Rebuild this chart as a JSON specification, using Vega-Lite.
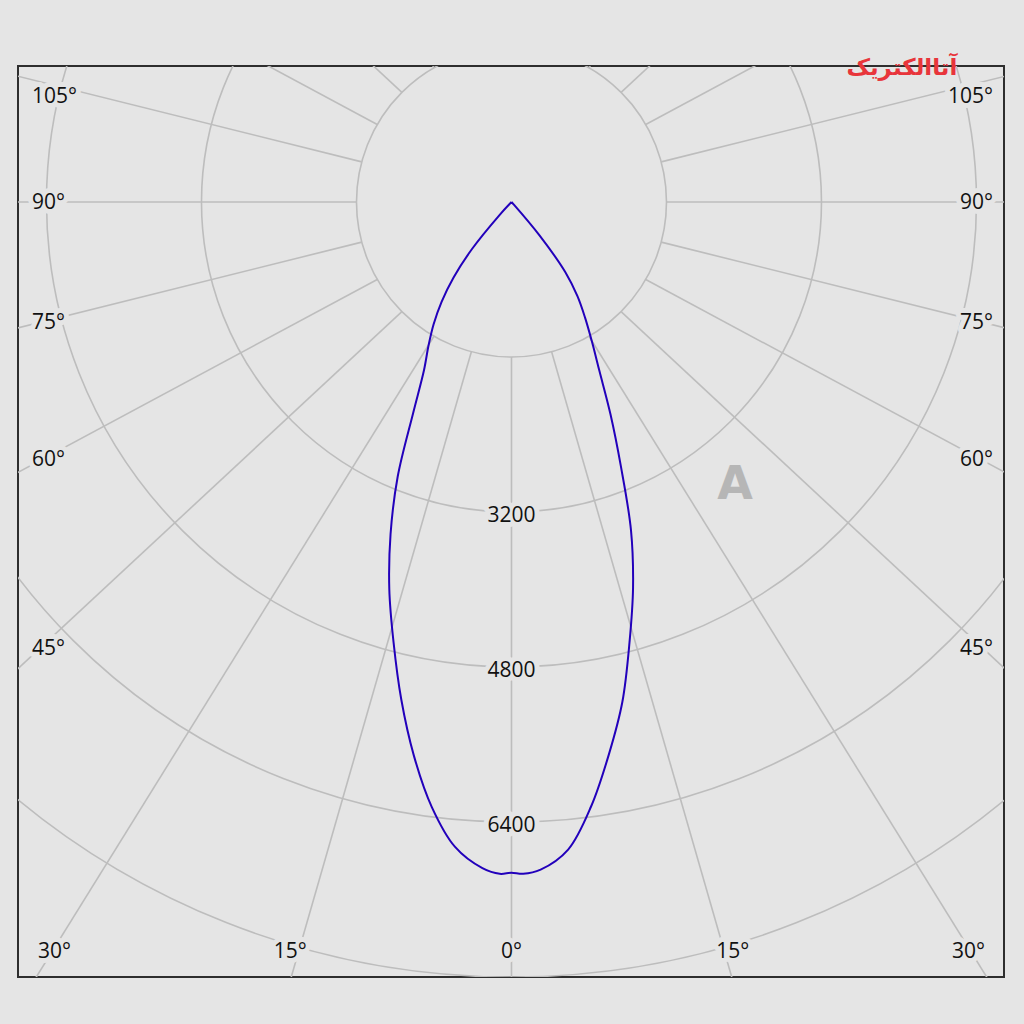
{
  "$schema": "https://vega.github.io/schema/vega-lite/v6.json",
  "width": 986,
  "height": 911,
  "autosize": {"type": "none"},
  "padding": {"left": 18, "top": 66, "right": 20, "bottom": 47},
  "background": "#e5e5e5",
  "config": {"view": {"stroke": "#2e2e2e", "strokeWidth": 2, "fill": "#e5e5e5"}},
  "datasets": {
    "curve": [
      {"gamma": -180, "cd": 0}, {"gamma": -150, "cd": 0}, {"gamma": -120, "cd": 0}, {"gamma": -90, "cd": 0},
      {"gamma": -60, "cd": 0}, {"gamma": -45, "cd": 0},
      {"gamma": -42.5, "cd": 180}, {"gamma": -40, "cd": 637}, {"gamma": -37.5, "cd": 982}, {"gamma": -35, "cd": 1258},
      {"gamma": -32.5, "cd": 1496}, {"gamma": -30, "cd": 1714}, {"gamma": -27.5, "cd": 1955}, {"gamma": -25, "cd": 2400},
      {"gamma": -22.5, "cd": 3070}, {"gamma": -20, "cd": 3650}, {"gamma": -17.5, "cd": 4194}, {"gamma": -15, "cd": 4704},
      {"gamma": -12.5, "cd": 5258}, {"gamma": -10, "cd": 5803}, {"gamma": -7.5, "cd": 6300}, {"gamma": -5, "cd": 6683},
      {"gamma": -2.5, "cd": 6883}, {"gamma": -1, "cd": 6936}, {"gamma": 0, "cd": 6924}, {"gamma": 1, "cd": 6936},
      {"gamma": 2.5, "cd": 6898}, {"gamma": 5, "cd": 6710}, {"gamma": 7.5, "cd": 6294}, {"gamma": 10, "cd": 5790},
      {"gamma": 12.5, "cd": 5287}, {"gamma": 15, "cd": 4707}, {"gamma": 17.5, "cd": 4173}, {"gamma": 20, "cd": 3607},
      {"gamma": 22.5, "cd": 2949}, {"gamma": 25, "cd": 2418}, {"gamma": 27.5, "cd": 1965}, {"gamma": 30, "cd": 1658},
      {"gamma": 32.5, "cd": 1412}, {"gamma": 35, "cd": 1187}, {"gamma": 37.5, "cd": 914}, {"gamma": 40, "cd": 450},
      {"gamma": 42.5, "cd": 40}, {"gamma": 45, "cd": 0}, {"gamma": 60, "cd": 0},
      {"gamma": 90, "cd": 0}, {"gamma": 120, "cd": 0}, {"gamma": 150, "cd": 0}, {"gamma": 180, "cd": 0}
    ],
    "circles": [{"r": 1600}, {"r": 3200}, {"r": 4800}, {"r": 6400}, {"r": 8000}, {"r": 9600}],
    "spokes": [
      {"deg": -165}, {"deg": -150}, {"deg": -135}, {"deg": -120}, {"deg": -105}, {"deg": -90},
      {"deg": -75}, {"deg": -60}, {"deg": -45}, {"deg": -30}, {"deg": -15}, {"deg": 0},
      {"deg": 15}, {"deg": 30}, {"deg": 45}, {"deg": 60}, {"deg": 75}, {"deg": 90},
      {"deg": 105}, {"deg": 120}, {"deg": 135}, {"deg": 150}, {"deg": 165}, {"deg": 180}
    ],
    "rings": [{"v": 3200}, {"v": 4800}, {"v": 6400}],
    "labels": [
      {"text": "105°", "deg": 105, "side": "L"}, {"text": "90°", "deg": 90, "side": "L"},
      {"text": "75°", "deg": 75, "side": "L"}, {"text": "60°", "deg": 60, "side": "L"},
      {"text": "45°", "deg": 45, "side": "L"},
      {"text": "105°", "deg": 105, "side": "R"}, {"text": "90°", "deg": 90, "side": "R"},
      {"text": "75°", "deg": 75, "side": "R"}, {"text": "60°", "deg": 60, "side": "R"},
      {"text": "45°", "deg": 45, "side": "R"},
      {"text": "30°", "deg": -30, "side": "B"}, {"text": "15°", "deg": -15, "side": "B"},
      {"text": "0°", "deg": 0, "side": "B"}, {"text": "15°", "deg": 15, "side": "B"},
      {"text": "30°", "deg": 30, "side": "B"}
    ],
    "marks": [
      {"t": "A", "kind": "watermark", "mx": 2307, "my": 2921},
      {"t": "آتاالکتریک", "kind": "logo", "mx": 4030, "my": -1385}
    ]
  },
  "encoding": {
    "x": {"field": "px", "type": "quantitative", "scale": {"domain": [-5094, 5084], "nice": false, "zero": false}, "axis": null},
    "y": {"field": "py", "type": "quantitative", "scale": {"domain": [-1404, 8000], "nice": false, "zero": false, "reverse": true}, "axis": null}
  },
  "layer": [
    {
      "data": {"name": "circles"},
      "transform": [{"calculate": "0", "as": "px"}, {"calculate": "0", "as": "py"}],
      "mark": {"type": "point", "shape": "circle", "filled": false, "stroke": "#bdbdbd", "strokeWidth": 1.6, "opacity": 1, "clip": true},
      "encoding": {
        "size": {"field": "r", "type": "quantitative", "scale": {"type": "pow", "exponent": 2, "domain": [0, 9600], "range": [0, 3459600]}, "legend": null}
      }
    },
    {
      "data": {"name": "spokes"},
      "transform": [
        {"calculate": "datum.deg*PI/180", "as": "rad"},
        {"calculate": "1600*sin(datum.rad)", "as": "px"},
        {"calculate": "1600*cos(datum.rad)", "as": "py"},
        {"calculate": "12000*1.065*sin(datum.rad)", "as": "px2"},
        {"calculate": "12000*cos(datum.rad)", "as": "py2"}
      ],
      "mark": {"type": "rule", "stroke": "#bdbdbd", "strokeWidth": 1.6, "clip": true},
      "encoding": {"x2": {"field": "px2"}, "y2": {"field": "py2"}}
    },
    {
      "data": {"name": "marks"},
      "transform": [{"filter": "datum.kind == 'watermark'"}, {"calculate": "datum.mx", "as": "px"}, {"calculate": "datum.my", "as": "py"}],
      "mark": {"type": "text", "font": "DejaVu Sans", "fontWeight": "bold", "fontSize": 46, "fill": "#a3a3a3", "opacity": 0.7},
      "encoding": {"text": {"field": "t", "type": "nominal"}}
    },
    {
      "data": {"name": "rings"},
      "transform": [{"calculate": "0", "as": "px"}, {"calculate": "datum.v", "as": "py"}, {"calculate": "'' + datum.v", "as": "text"}],
      "mark": {"type": "text", "font": "Open Sans", "fontSize": 21, "dy": 4, "fill": "#e5e5e5", "stroke": "#e5e5e5", "strokeWidth": 10, "strokeJoin": "round"},
      "encoding": {"text": {"field": "text", "type": "nominal"}}
    },
    {
      "data": {"name": "rings"},
      "transform": [{"calculate": "0", "as": "px"}, {"calculate": "datum.v", "as": "py"}, {"calculate": "'' + datum.v", "as": "text"}],
      "mark": {"type": "text", "font": "Open Sans", "fontSize": 21, "dy": 4, "fill": "#111111"},
      "encoding": {"text": {"field": "text", "type": "nominal"}}
    },
    {
      "data": {"name": "labels"},
      "transform": [
        {"filter": "datum.side == 'L'"},
        {"calculate": "datum.deg*PI/180", "as": "rad"},
        {"calculate": "-4950", "as": "px"},
        {"calculate": "max(-1094, 4903*cos(datum.rad)/(1.065*sin(datum.rad)))", "as": "py"}
      ],
      "mark": {"type": "text", "font": "Open Sans", "fontSize": 21, "align": "left", "dy": 1, "fill": "#e5e5e5", "stroke": "#e5e5e5", "strokeWidth": 10, "strokeJoin": "round"},
      "encoding": {"text": {"field": "text", "type": "nominal"}}
    },
    {
      "data": {"name": "labels"},
      "transform": [
        {"filter": "datum.side == 'L'"},
        {"calculate": "datum.deg*PI/180", "as": "rad"},
        {"calculate": "-4950", "as": "px"},
        {"calculate": "max(-1094, 4903*cos(datum.rad)/(1.065*sin(datum.rad)))", "as": "py"}
      ],
      "mark": {"type": "text", "font": "Open Sans", "fontSize": 21, "align": "left", "dy": 1, "fill": "#111111"},
      "encoding": {"text": {"field": "text", "type": "nominal"}}
    },
    {
      "data": {"name": "labels"},
      "transform": [
        {"filter": "datum.side == 'R'"},
        {"calculate": "datum.deg*PI/180", "as": "rad"},
        {"calculate": "4970", "as": "px"},
        {"calculate": "max(-1094, 4903*cos(datum.rad)/(1.065*sin(datum.rad)))", "as": "py"}
      ],
      "mark": {"type": "text", "font": "Open Sans", "fontSize": 21, "align": "right", "dy": 1, "fill": "#e5e5e5", "stroke": "#e5e5e5", "strokeWidth": 10, "strokeJoin": "round"},
      "encoding": {"text": {"field": "text", "type": "nominal"}}
    },
    {
      "data": {"name": "labels"},
      "transform": [
        {"filter": "datum.side == 'R'"},
        {"calculate": "datum.deg*PI/180", "as": "rad"},
        {"calculate": "4970", "as": "px"},
        {"calculate": "max(-1094, 4903*cos(datum.rad)/(1.065*sin(datum.rad)))", "as": "py"}
      ],
      "mark": {"type": "text", "font": "Open Sans", "fontSize": 21, "align": "right", "dy": 1, "fill": "#111111"},
      "encoding": {"text": {"field": "text", "type": "nominal"}}
    },
    {
      "data": {"name": "labels"},
      "transform": [
        {"filter": "datum.side == 'B'"},
        {"calculate": "datum.deg*PI/180", "as": "rad"},
        {"calculate": "(datum.deg < 0 ? -1 : 1) * min(4717, 8520*tan(abs(datum.rad)))", "as": "px"},
        {"calculate": "7742", "as": "py"}
      ],
      "mark": {"type": "text", "font": "Open Sans", "fontSize": 21, "align": "center", "fill": "#e5e5e5", "stroke": "#e5e5e5", "strokeWidth": 10, "strokeJoin": "round"},
      "encoding": {"text": {"field": "text", "type": "nominal"}}
    },
    {
      "data": {"name": "labels"},
      "transform": [
        {"filter": "datum.side == 'B'"},
        {"calculate": "datum.deg*PI/180", "as": "rad"},
        {"calculate": "(datum.deg < 0 ? -1 : 1) * min(4717, 8520*tan(abs(datum.rad)))", "as": "px"},
        {"calculate": "7742", "as": "py"}
      ],
      "mark": {"type": "text", "font": "Open Sans", "fontSize": 21, "align": "center", "fill": "#111111"},
      "encoding": {"text": {"field": "text", "type": "nominal"}}
    },
    {
      "data": {"name": "curve"},
      "transform": [
        {"calculate": "datum.gamma*PI/180", "as": "rad"},
        {"calculate": "datum.cd*sin(datum.rad)", "as": "px"},
        {"calculate": "datum.cd*cos(datum.rad)", "as": "py"}
      ],
      "mark": {"type": "line", "color": "#2200bb", "strokeWidth": 2, "interpolate": "catmull-rom", "clip": true},
      "encoding": {"order": {"field": "gamma", "type": "quantitative"}}
    },
    {
      "data": {"name": "marks"},
      "transform": [{"filter": "datum.kind == 'logo'"}, {"calculate": "datum.mx", "as": "px"}, {"calculate": "datum.my", "as": "py"}],
      "mark": {"type": "text", "font": "DejaVu Sans", "fontWeight": "bold", "fontSize": 23, "fill": "#e8353b"},
      "encoding": {"text": {"field": "t", "type": "nominal"}}
    }
  ]
}
